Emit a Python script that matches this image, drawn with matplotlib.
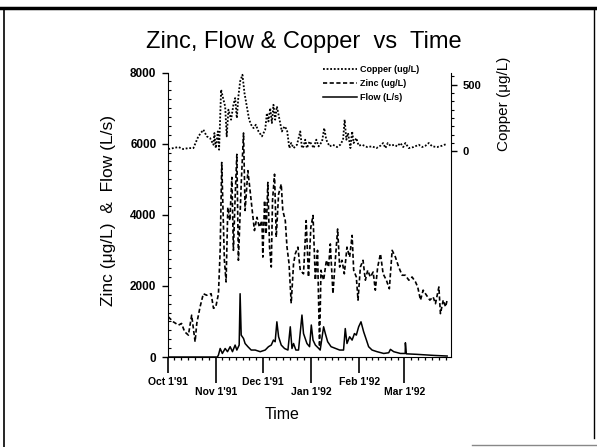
import matplotlib.pyplot as plt
import numpy as np
from matplotlib.lines import Line2D
from matplotlib.ticker import FixedLocator, MultipleLocator

plt.rcParams['font.family'] = ['Liberation Sans', 'DejaVu Sans']

# days since Oct 1 1991
flow_day = [0, 32, 32.7, 33.8, 35.2, 37, 38.5, 40.2, 41.7, 43.4, 44.5, 46, 46.6, 47.3, 48.8, 49.8,
            51.6, 53.7, 56.3, 59.5, 62.7, 64.8, 66.6, 68, 69.1, 70.2, 71.3, 73, 75.1, 77.3,
            78.8, 79.9, 80.9, 82.4, 84.1, 86.3, 87.3, 89.5, 91.2, 92.3, 93.4, 94.9, 97, 98,
            100.2, 101.3, 102.8, 105, 107.7, 110.5, 113, 114.1, 115.2, 116.9, 118.5, 120,
            121.2, 122.7, 124.2, 125.9, 127.7, 129.1, 131.3, 134.5, 138.8, 142, 143.1, 145.2,
            149.5, 152.6, 152.7, 153.3, 160.2, 171, 179.5]
flow_val = [0, 0, 56, 240, 100, 240, 150, 290, 150, 336, 196, 336, 1780, 616, 520, 380,
            290, 196, 196, 150, 196, 290, 336, 476, 430, 990, 570, 336, 240, 196,
            850, 240, 380, 196, 196, 1180, 660, 380, 290, 900, 476, 336, 244, 196,
            850, 660, 430, 290, 244, 196, 196, 800, 380, 570, 476, 660,
            616, 850, 990, 710, 476, 290, 196, 150, 100, 120, 215, 150,
            100, 100, 400, 90, 75, 45, 28]

zinc_day = [0.5, 3.7, 7, 9, 11, 13.4, 15.5, 17.7, 18.8, 20.9, 23, 25.2, 28, 29.5, 31, 32.7,
            33.8, 34.8, 36.5, 37.6, 38.7, 40, 41.3, 42.3, 43.4, 44.5, 45.5, 47.3, 48.8, 49.8,
            51.6, 53, 54.5, 55.8, 57.4, 59, 60.6, 61.2, 62.3, 63.3, 64.4, 65.5, 66.6, 67.4,
            68.7, 69.8, 71.3, 73, 74, 75.6, 76.7, 78, 79.4, 80.9, 82, 83.7, 85.2, 87.3, 89,
            90.5, 92, 93.4, 94.9, 96.3, 97.6, 98.5, 100.2, 102, 103.4, 104.5, 106.2, 107.7,
            109.2, 110.5, 112, 113.5, 115.2, 116.9, 118.5, 119.5, 121.2, 122.3, 123.8, 125.5,
            127, 128.5, 130.2, 132, 133.4, 134.9, 136.7, 138.4, 140.5, 142.4, 144.2, 146.3,
            148.4, 150.6, 152.7, 154.9, 157, 159.2, 160.6, 162.4, 164.1, 166.2, 168.4, 170.5,
            172, 174.2, 175.2, 177, 178.5, 179.5]
zinc_val = [1130, 990, 896, 943, 710, 616, 1176, 430, 950, 1410, 1780, 1736, 1780, 1370, 1410, 1780,
            3000, 5470, 2720, 2110, 4210, 3836, 5050, 3000, 4490, 5700, 2720, 4860, 6300, 4120,
            5240, 4680, 4070, 3556, 3930, 3650, 3836, 2810, 4400, 3460, 4910, 3090, 2530, 4400,
            5140, 3370, 4580, 4860, 4120, 3836, 3090, 2630, 1510, 2620, 2900, 3090, 2440, 2340, 3836,
            2250, 3650, 3980, 2160, 3000, 290, 2440, 2160, 2720, 2530, 3180, 1780, 2720,
            3600, 2530, 2720, 2340, 3090, 2810, 3420, 2440, 2250, 1600, 2530, 2720,
            2160, 2440, 2250, 2390, 1880, 2530, 2900, 2340, 2160, 1920, 3000, 2810,
            2530, 2300, 2300, 2160, 2250, 2110, 1970, 1600, 1880, 1740, 1600, 1690,
            1500, 1970, 1220, 1600, 1410, 1600]

copper_day = [0.5, 3.7, 7, 10, 13.4, 16.6, 19.8, 23, 25.2, 27.3, 29.5, 30.1, 31, 32.3, 33.1,
              34.4, 35.9, 37, 38, 39.1, 40.8, 42.3, 43.4, 44.5, 45.5, 46.6, 48.1, 49.4, 50.9,
              52.4, 53.7, 55.2, 56.7, 58.4, 60.6, 62.7, 63.8, 64.8, 65.9, 67, 68, 69.1, 70.2,
              71.7, 73.4, 75.1, 76.7, 78.2, 79.4, 80.9, 83.1, 85.2, 86.3, 87.3, 88.4, 89.5,
              91.2, 92.7, 93.8, 95.5, 97, 99.2, 100.6, 101.9, 104, 106.2, 108.8, 110.9, 112.7,
              113.7, 114.8, 115.9, 117.4, 118.5, 119.5, 121.2, 122.7, 124.9, 128.1, 131.3,
              134.1, 136.7, 138.4, 139.9, 141.4, 143.1, 145.7, 147.4, 149.5, 151.3, 152.7,
              154.9, 158, 161.3, 163.5, 165.6, 167.7, 169.9, 173.1, 176.3, 179.5]
copper_val = [18, 25, 33, 18, 25, 25, 113, 163, 113, 100, 50, 138, 25, 150, 13,
              463, 388, 338, 113, 313, 238, 350, 400, 250, 413, 525, 575, 438, 338,
              238, 200, 175, 200, 150, 113, 163, 288, 225, 325, 213, 350, 238, 338,
              250, 150, 188, 163, 25, 63, 25, 50, 150, 25, 38, 88, 25,
              75, 50, 25, 88, 38, 75, 175, 88, 38, 50, 33, 50, 88,
              238, 88, 138, 25, 150, 63, 100, 43, 50, 33, 38,
              25, 43, 63, 25, 63, 43, 50, 38, 63, 33, 63,
              25, 33, 50, 33, 43, 63, 38, 33, 43, 58]

month_dates = np.array(['1991-10-01', '1991-11-01', '1991-12-01', '1992-01-01',
                        '1992-02-01', '1992-03-01', '1992-04-01'], dtype='datetime64[D]')
month_days = (month_dates - month_dates[0]).astype(int)
month_labels = ["Oct 1'91", "Nov 1'91", "Dec 1'91", "Jan 1'92", "Feb 1'92", "Mar 1'92"]

fig = plt.figure(figsize=(5.97, 4.47), dpi=100)
ax = fig.add_axes([0.2806, 0.2013, 0.4749, 0.6365])
ax2 = ax.twinx()

ax.plot(flow_day, flow_val, color='black', lw=1.1, label='Flow (L/s)')
ax.plot(zinc_day, zinc_val, color='black', lw=1.2, ls=(0, (2.5, 1.5)), label='Zinc (ug/L)')
ax2.plot(copper_day, copper_val, color='black', lw=1.3, ls=(0, (1, 1)), label='Copper (ug/L)')

ax.set_xlim(0, 182)
ax.set_ylim(0, 8000)
ax2.set_ylim(-1542, 592)

for s in ['top', 'right']:
    ax.spines[s].set_visible(False)
for s in ['top', 'left', 'bottom']:
    ax2.spines[s].set_visible(False)

# left axis ticks
ax.set_yticks([0, 2000, 4000, 6000, 8000])
ax.yaxis.set_minor_locator(MultipleLocator(250))
ax.tick_params(axis='y', which='major', direction='out', length=4, width=1, pad=4,
               labelsize=8.5)
ax.tick_params(axis='y', which='minor', direction='in', length=2.5, width=0.8)
for t in ax.get_yticklabels():
    t.set_fontweight('bold')

# right axis ticks
ax2.set_yticks([0, 500])
ax2.yaxis.set_minor_locator(FixedLocator(np.arange(0, 600, 62.5)))
ax2.tick_params(axis='y', which='major', direction='out', length=4, width=1, pad=4,
                labelsize=8)
ax2.tick_params(axis='y', which='minor', direction='out', length=2.5, width=0.8)
for t in ax2.get_yticklabels():
    t.set_fontweight('bold')

# x axis: staggered month ticks
upper = month_days[0:6:2]
lower = month_days[1:6:2]
ax.set_xticks(upper, month_labels[0:6:2])
minor = []
for a, b in zip(month_days[:-1], month_days[1:]):
    minor.extend(np.linspace(a, b, 8)[1:-1])
ax.xaxis.set_minor_locator(FixedLocator(minor))
ax.tick_params(axis='x', which='major', direction='out', length=11.5, width=1.2, pad=3,
               labelsize=7.5)
ax.tick_params(axis='x', which='minor', direction='out', length=2.5, width=0.9)
for t in ax.get_xticklabels():
    t.set_fontweight('bold')

sec = ax.secondary_xaxis('bottom')
sec.set_xticks(lower, month_labels[1:6:2])
sec.tick_params(axis='x', which='major', direction='out', length=18.5, width=1.2, pad=3,
                labelsize=7.5)
sec.xaxis.set_minor_locator(FixedLocator([]))
sec.spines['bottom'].set_visible(False)
for t in sec.get_xticklabels():
    t.set_fontweight('bold')

# labels
fig.text(0.509, 0.905, 'Zinc, Flow & Copper  vs  Time', fontsize=17, ha='center', va='center')
fig.text(0.182, 0.53, 'Zinc (\u03bcg/L)  &  Flow (L/s)', fontsize=12.5, rotation=90,
         ha='center', va='center')
fig.text(0.845, 0.767, 'Copper (\u03bcg/L)', fontsize=11, rotation=90, ha='center', va='center')
fig.text(0.473, 0.072, 'Time', fontsize=11.5, ha='center', va='center')

# legend
h1, l1 = ax.get_legend_handles_labels()
h2, l2 = ax2.get_legend_handles_labels()
handles = [h2[0], h1[1], h1[0]]
labels = [l2[0], l1[1], l1[0]]
ax2.legend(handles, labels, loc='upper left', bbox_to_anchor=(0.535, 1.04), frameon=False,
           prop={'size': 6.5, 'weight': 'bold'}, handlelength=3.8, handletextpad=0.3,
           labelspacing=0.55, borderaxespad=0)

# slide frame
fig.add_artist(Line2D([0, 1], [0.982, 0.982], color='black', lw=2.5))
fig.add_artist(Line2D([0.006, 0.006], [0.0, 0.982], color='black', lw=1.2))
fig.add_artist(Line2D([0.995, 0.995], [0.02, 0.982], color='black', lw=1.0))
fig.add_artist(Line2D([0.79, 1], [0.004, 0.004], color='#888888', lw=1.0))

fig.savefig('out.png', dpi=100)
